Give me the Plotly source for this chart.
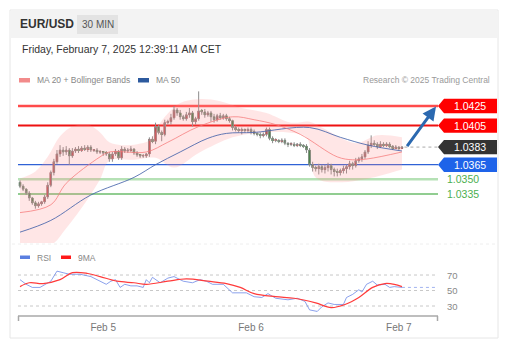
import plotly.graph_objects as go

W, H = 510, 353

# ---------------- data ----------------
opens = [1.0347,1.0343,1.0340,1.0336,1.0331,1.0326,1.0323,1.0325,1.0327,1.0332,
         1.0344,1.0357,1.0368,1.0376,1.0380,1.0378,1.0380,1.0374,1.0379,1.0381,
         1.0380,1.0382,1.0381,1.0383,1.0380,1.0380,1.0378,1.0378,1.0377,1.0376,
         1.0371,1.0376,1.0379,1.0372,1.0381,1.0379,1.0380,1.0381,1.0377,1.0375,
         1.0374,1.0374,1.0376,1.0391,1.0389,1.0404,1.0398,1.0396,1.0408,1.0409,
         1.0413,1.0421,1.0418,1.0414,1.0412,1.0416,1.0418,1.0409,1.0412,1.0420,
         1.0419,1.0416,1.0418,1.0414,1.0411,1.0415,1.0413,1.0415,1.0412,1.0410,
         1.0403,1.0401,1.0400,1.0401,1.0400,1.0401,1.0399,1.0397,1.0396,1.0395,
         1.0396,1.0401,1.0392,1.0390,1.0390,1.0389,1.0390,1.0387,1.0386,1.0386,
         1.0385,1.0386,1.0385,1.0384,1.0380,1.0365,1.0362,1.0361,1.0363,1.0360,
         1.0362,1.0364,1.0360,1.0358,1.0357,1.0359,1.0361,1.0363,1.0366,1.0364,
         1.0369,1.0371,1.0373,1.0378,1.0385,1.0387,1.0386,1.0384,1.0386,1.0385,
         1.0386,1.0384,1.0382,1.0383,1.0382]
closes = [1.0343,1.0340,1.0336,1.0331,1.0326,1.0323,1.0325,1.0327,1.0332,1.0344,
          1.0357,1.0368,1.0376,1.0380,1.0378,1.0380,1.0374,1.0379,1.0381,1.0380,
          1.0382,1.0381,1.0383,1.0380,1.0380,1.0378,1.0378,1.0377,1.0376,1.0371,
          1.0376,1.0379,1.0372,1.0381,1.0379,1.0380,1.0381,1.0377,1.0375,1.0374,
          1.0374,1.0376,1.0391,1.0389,1.0404,1.0398,1.0396,1.0408,1.0409,1.0413,
          1.0421,1.0418,1.0414,1.0412,1.0416,1.0418,1.0409,1.0412,1.0420,1.0419,
          1.0416,1.0418,1.0414,1.0411,1.0415,1.0413,1.0415,1.0412,1.0410,1.0403,
          1.0401,1.0400,1.0401,1.0400,1.0401,1.0399,1.0397,1.0396,1.0395,1.0396,
          1.0401,1.0392,1.0390,1.0390,1.0389,1.0390,1.0387,1.0386,1.0386,1.0385,
          1.0386,1.0385,1.0384,1.0380,1.0365,1.0362,1.0361,1.0363,1.0360,1.0362,
          1.0364,1.0360,1.0358,1.0357,1.0359,1.0361,1.0363,1.0366,1.0364,1.0369,
          1.0371,1.0373,1.0378,1.0385,1.0387,1.0386,1.0384,1.0386,1.0385,1.0386,
          1.0384,1.0382,1.0383,1.0382,1.0383]
wick_up_pips = [2,2,1,2,1,2,2,1,2,3, 2,3,4,5,3,4,2,3,2,3, 2,3,2,2,1,2,2,1,2,2,
                2,2,1,3,2,2,3,1,2,1, 2,1,2,3,4,2,2,3,2,4, 4,2,3,2,3,5,2,2,20,2,
                3,2,2,3,2,3,2,2,2,1, 2,2,2,1,2,2,2,1,2,2, 2,2,2,2,1,2,2,1,2,2,
                1,2,1,2,2,3,2,3,2,3, 3,2,2,3,2,3,2,3,2,3, 2,3,2,4,8,3,2,3,2,2,
                2,1,2,1,1]
wick_dn_pips = [2,2,2,3,2,3,2,2,2,2, 2,3,2,3,4,3,9,2,2,3, 2,2,3,2,2,2,2,3,2,3,
                3,2,2,2,2,2,2,2,2,2, 2,2,3,2,3,2,7,2,2,3, 2,3,3,2,2,3,5,3,2,3,
                3,2,5,3,2,2,2,2,2,3, 2,2,4,2,2,3,2,2,3,2, 2,2,3,2,2,2,2,3,2,2,
                2,2,2,3,2,4,3,6,3,4, 4,5,5,4,3,3,5,3,4,2, 2,3,2,2,3,2,3,2,2,2,
                2,2,1,2,1]
candle_x = list(range(len(closes)))
highs = [max(o, c) + w * 0.0001 for o, c, w in zip(opens, closes, wick_up_pips)]
lows = [min(o, c) - w * 0.0001 for o, c, w in zip(opens, closes, wick_dn_pips)]

ma20_x = [0, 10, 15, 26, 29, 41, 48, 58, 69, 76, 83, 91, 103, 108, 113, 124]
ma20_v = [1.0316, 1.0324, 1.0346, 1.0373, 1.0378, 1.0378, 1.0388, 1.0404, 1.0414,
          1.0411, 1.0406, 1.0396, 1.0373, 1.0370, 1.0371, 1.0378]
ma50_x = [0, 10, 23, 37, 44, 52, 61, 67, 76, 94, 104, 113, 124]
ma50_v = [1.0296, 1.0308, 1.0334, 1.0352, 1.0365, 1.0378, 1.0392, 1.0397, 1.0398,
          1.0403, 1.0393, 1.0385, 1.0379]
bb_up_x = [0, 5, 9, 13, 17, 22, 26, 29, 33, 38, 42, 46, 52, 58, 65, 72, 80, 88, 94,
           98, 109, 116, 124]
bb_up_v = [1.0351, 1.0358, 1.0373, 1.0394, 1.0404, 1.0406, 1.0398, 1.0388, 1.0385,
           1.0386, 1.0390, 1.0410, 1.0428, 1.0432, 1.0430, 1.0423, 1.0418, 1.0408,
           1.0409, 1.0403, 1.0387, 1.0395, 1.0393]
bb_lo_x = [0, 10, 15, 22, 26, 29, 37, 44, 50, 58, 69, 76, 87, 93, 96, 104, 112, 124]
bb_lo_v = [1.0283, 1.0283, 1.0300, 1.0330, 1.0350, 1.0369, 1.0370, 1.0372, 1.0362,
           1.0377, 1.0393, 1.0397, 1.0398, 1.0393, 1.0352, 1.0347, 1.0350, 1.0360]

rsi_x = [0, 2, 4, 6.5, 10, 12, 14, 16, 19.5, 23, 25, 28, 29.5, 31, 32.5, 34, 36, 38,
         40, 41, 42, 43, 45.5, 48, 50, 53, 56, 58.5, 60.5, 62.5, 66, 69, 73.5, 76,
         78.5, 80.5, 83, 87, 90, 92.5, 94, 96.5, 98, 100, 102, 105, 106, 108, 110,
         111, 112.5, 114.5, 116, 118.5, 120, 121.5, 124]
rsi_v = [64, 58, 54, 54, 62, 75, 73, 71, 71, 68, 64, 58, 62, 64, 54, 58, 56, 56,
         54, 64, 60, 67, 60, 66, 68, 62, 60, 64, 62, 58, 58, 47, 47, 42,
         41, 46, 40, 38, 40, 36, 25, 23, 29, 34, 32, 32, 41, 45, 51,
         48, 58, 62, 57, 58, 54, 55, 54]
ma9_x = [0, 3, 7.5, 13, 17, 22, 26, 31.5, 37, 41, 48, 54, 61, 67, 71.5, 76, 83, 89,
         96, 101, 105.5, 110, 114.5, 118.5, 121.5, 124]
ma9_v = [55, 60, 59, 64, 73, 72, 68, 62, 60, 58, 62, 65, 62, 59, 54, 46, 42, 40,
         34, 28, 32, 41, 54, 59, 58, 55]

levels = [1.0425, 1.0405, 1.0383, 1.0365, 1.0350, 1.0335]
level_labels = ["1.0425", "1.0405", "1.0383", "1.0365", "1.0350", "1.0335"]
tick_vals = [27, 75, 123]
tick_text = ["Feb 5", "Feb 6", "Feb 7"]
rsi_levels = [70, 50, 30]

# ---------------- geometry helpers ----------------
def px(x):
    return x / W

def py(y):
    return 1 - y / H

X_LEFT, X_RIGHT = 18, 438
XR = [-0.65, 135.7]
Y_MAIN = [1.02849, 1.04414]
Y_RSI = [17.1, 86.8]
PIP_PX = 0.978  # px per 0.0001

FONT = "Liberation Sans, Arial, sans-serif"
UP_COL = "#e8242a"
DN_COL = "#1f7a1f"

fig = go.Figure()

# Bollinger band
fig.add_trace(go.Scatter(x=bb_lo_x, y=bb_lo_v, mode="lines", line=dict(width=0, shape="spline"),
                         hoverinfo="skip", showlegend=False))
fig.add_trace(go.Scatter(x=bb_up_x, y=bb_up_v, mode="lines", line=dict(width=0, shape="spline"),
                         fill="tonexty", fillcolor="rgba(255,140,140,0.22)",
                         hoverinfo="skip", showlegend=False))
# MA lines
fig.add_trace(go.Scatter(x=ma50_x, y=ma50_v, mode="lines",
                         line=dict(color="rgba(70,100,170,0.85)", width=1, shape="spline"),
                         showlegend=False))
fig.add_trace(go.Scatter(x=ma20_x, y=ma20_v, mode="lines",
                         line=dict(color="rgba(245,120,120,0.75)", width=1, shape="spline"),
                         showlegend=False))

# level lines
level_style = [
    dict(color="rgba(255,30,30,0.8)", width=2.5),
    dict(color="#ee1111", width=2),
    None,
    dict(color="#2f62d6", width=1.3),
    dict(color="rgba(120,200,120,0.55)", width=2.5),
    dict(color="#6cbd6c", width=1.3),
]
for lv, st in zip(levels, level_style):
    if st is None:
        continue
    fig.add_shape(type="line", xref="x", yref="y", x0=XR[0], x1=XR[1], y0=lv, y1=lv,
                  line=st, layer="below")

# candles: wicks from candlestick, bodies from bars
fig.add_trace(go.Candlestick(
    x=candle_x, open=opens, high=highs, low=lows, close=closes,
    increasing=dict(fillcolor=UP_COL, line=dict(color="#8c8c8c", width=1)),
    decreasing=dict(fillcolor=DN_COL, line=dict(color="#8c8c8c", width=1)),
    whiskerwidth=0, showlegend=False, xaxis="x", yaxis="y"))
body_base = [min(o, c) for o, c in zip(opens, closes)]
body_len = [max(abs(c - o), 0.00009) for o, c in zip(opens, closes)]
body_col = [UP_COL if c >= o else DN_COL for o, c in zip(opens, closes)]
fig.add_trace(go.Bar(x=candle_x, y=body_len, base=body_base, width=0.72,
                     marker=dict(color=body_col, line=dict(width=0)),
                     showlegend=False, xaxis="x", yaxis="y"))

# dotted line to current price label
fig.add_shape(type="line", xref="x", yref="y", x0=candle_x[-1] + 0.8, x1=XR[1],
              y0=levels[2], y1=levels[2], line=dict(color="#aaaaaa", width=1, dash="dot"))

# RSI panel
for lv in rsi_levels:
    fig.add_shape(type="line", xref="x2", yref="y2", x0=XR[0], x1=XR[1], y0=lv, y1=lv,
                  line=dict(color="#c8c8c8", width=1, dash="dot"), layer="below")
fig.add_trace(go.Scatter(x=rsi_x, y=rsi_v, mode="lines", xaxis="x2", yaxis="y2",
                         line=dict(color="rgba(100,130,230,0.75)", width=1),
                         showlegend=False))
fig.add_trace(go.Scatter(x=[rsi_x[-1], XR[1]], y=[rsi_v[-1], rsi_v[-1]], mode="lines",
                         xaxis="x2", yaxis="y2",
                         line=dict(color="rgba(100,130,230,0.6)", width=1, dash="dot"),
                         showlegend=False))
fig.add_trace(go.Scatter(x=ma9_x, y=ma9_v, mode="lines", xaxis="x2", yaxis="y2",
                         line=dict(color="#ff3b3b", width=1.2, shape="spline"),
                         showlegend=False))

shapes = []
annotations = []

# card & header
shapes.append(dict(type="rect", xref="paper", yref="paper", x0=px(10), x1=px(498),
                   y0=py(338), y1=py(10), line=dict(color="#e6e6e6", width=1),
                   fillcolor="rgba(0,0,0,0)", layer="below"))
shapes.append(dict(type="rect", xref="paper", yref="paper", x0=px(10.5), x1=px(497.5),
                   y0=py(38), y1=py(10.5), line=dict(width=0), fillcolor="#f3f3f3",
                   layer="below"))
shapes.append(dict(type="rect", xref="paper", yref="paper", x0=px(77), x1=px(118),
                   y0=py(34), y1=py(15), line=dict(width=0), fillcolor="#e3e3e3",
                   layer="below"))
annotations.append(dict(xref="paper", yref="paper", x=px(18), y=py(24.5), text="<b>EUR/USD</b>",
                        showarrow=False, xanchor="left", yanchor="middle",
                        font=dict(family=FONT, size=12, color="#333")))
annotations.append(dict(xref="paper", yref="paper", x=px(97.5), y=py(24.5), text="30 MIN",
                        showarrow=False, xanchor="center", yanchor="middle",
                        font=dict(family=FONT, size=10, color="#555")))
annotations.append(dict(xref="paper", yref="paper", x=px(20), y=py(49.5),
                        text="Friday, February 7, 2025 12:39:11 AM CET",
                        showarrow=False, xanchor="left", yanchor="middle",
                        font=dict(family=FONT, size=10.5, color="#333")))

# main legend
shapes.append(dict(type="rect", xref="paper", yref="paper", x0=px(19), x1=px(30),
                   y0=py(82.5), y1=py(78), line=dict(width=0), fillcolor="#f28b8b"))
annotations.append(dict(xref="paper", yref="paper", x=px(35), y=py(80.5),
                        text="MA 20 + Bollinger Bands", showarrow=False, xanchor="left",
                        yanchor="middle", font=dict(family=FONT, size=8.5, color="#888")))
shapes.append(dict(type="rect", xref="paper", yref="paper", x0=px(138), x1=px(149),
                   y0=py(82.5), y1=py(78), line=dict(width=0), fillcolor="#2d5a9e"))
annotations.append(dict(xref="paper", yref="paper", x=px(154), y=py(80.5),
                        text="MA 50", showarrow=False, xanchor="left",
                        yanchor="middle", font=dict(family=FONT, size=8.5, color="#888")))
annotations.append(dict(xref="paper", yref="paper", x=px(492), y=py(80.5),
                        text="Research © 2025 Trading Central", showarrow=False,
                        xanchor="right", yanchor="middle",
                        font=dict(family=FONT, size=8.5, color="#9a9a9a")))

# separator between panels
shapes.append(dict(type="line", xref="paper", yref="paper", x0=px(12), x1=px(496),
                   y0=py(244), y1=py(244), line=dict(color="#eeeeee", width=1, dash="dot")))

# price labels
half = 7.2 / PIP_PX * 0.0001
label_fill = ["#ff0000", "#ff0000", "#333333", "#1e63e9", None, None]
for lv, lab, fc in zip(levels, level_labels, label_fill):
    if fc is not None:
        x0, xa, x1 = px(438), px(444), px(497)
        path = (f"M {x0},{lv} L {xa},{lv + half} L {x1},{lv + half} "
                f"L {x1},{lv - half} L {xa},{lv - half} Z")
        shapes.append(dict(type="path", xref="paper", yref="y", path=path,
                           fillcolor=fc, line=dict(width=0)))
        annotations.append(dict(xref="paper", yref="y", x=px(470), y=lv, text=lab,
                                showarrow=False, xanchor="center", yanchor="middle",
                                font=dict(family=FONT, size=10.5, color="white")))
    else:
        annotations.append(dict(xref="paper", yref="y", x=px(445), y=lv, text=lab,
                                showarrow=False, xanchor="left", yanchor="middle",
                                font=dict(family=FONT, size=10.5, color="#4caf50")))

# forecast arrow
annotations.append(dict(xref="paper", yref="y", x=px(436), y=levels[0] - 0.00005,
                        ax=-30, ay=41, text="", showarrow=True, arrowhead=2,
                        arrowsize=0.9, arrowwidth=3, arrowcolor="#2b69b0", standoff=0))

# RSI legend
shapes.append(dict(type="rect", xref="paper", yref="paper", x0=px(20), x1=px(30),
                   y0=py(259), y1=py(255.5), line=dict(width=0), fillcolor="#5b7fe0"))
annotations.append(dict(xref="paper", yref="paper", x=px(35), y=py(257.5), text="RSI",
                        showarrow=False, xanchor="left", yanchor="middle",
                        font=dict(family=FONT, size=8.5, color="#888")))
shapes.append(dict(type="rect", xref="paper", yref="paper", x0=px(61), x1=px(71),
                   y0=py(259), y1=py(255.5), line=dict(width=0), fillcolor="#ff1a1a"))
annotations.append(dict(xref="paper", yref="paper", x=px(76), y=py(257.5), text="9MA",
                        showarrow=False, xanchor="left", yanchor="middle",
                        font=dict(family=FONT, size=8.5, color="#888")))
for lv in rsi_levels:
    annotations.append(dict(xref="paper", yref="y2", x=px(445), y=lv, text=str(lv),
                            showarrow=False, xanchor="left", yanchor="middle",
                            font=dict(family=FONT, size=9.5, color="#888")))

# x axis line and end ticks
shapes.append(dict(type="line", xref="paper", yref="paper", x0=px(18), x1=px(438),
                   y0=py(316), y1=py(316), line=dict(color="#a8a8a8", width=1.5)))
for xe in (18.5, 437.5):
    shapes.append(dict(type="line", xref="paper", yref="paper", x0=px(xe), x1=px(xe),
                       y0=py(316), y1=py(321), line=dict(color="#a8a8a8", width=1.5)))

for s in shapes:
    fig.add_shape(**s)

fig.update_layout(
    width=W, height=H, margin=dict(l=0, r=0, t=0, b=0),
    paper_bgcolor="white", plot_bgcolor="rgba(0,0,0,0)",
    showlegend=False, annotations=annotations, barmode="overlay",
    xaxis=dict(domain=[px(X_LEFT), px(X_RIGHT)], range=XR, visible=False,
               rangeslider=dict(visible=False), fixedrange=True),
    yaxis=dict(domain=[py(243), py(90)], range=Y_MAIN, visible=False, fixedrange=True),
    xaxis2=dict(domain=[px(X_LEFT), px(X_RIGHT)], range=XR, anchor="y2",
                showgrid=False, zeroline=False, showline=False, ticks="",
                tickvals=tick_vals, ticktext=tick_text, ticklabelstandoff=4,
                tickfont=dict(family=FONT, size=10, color="#777")),
    yaxis2=dict(domain=[py(316), py(262)], range=Y_RSI, visible=False, fixedrange=True),
)

fig.write_html("out.html")
